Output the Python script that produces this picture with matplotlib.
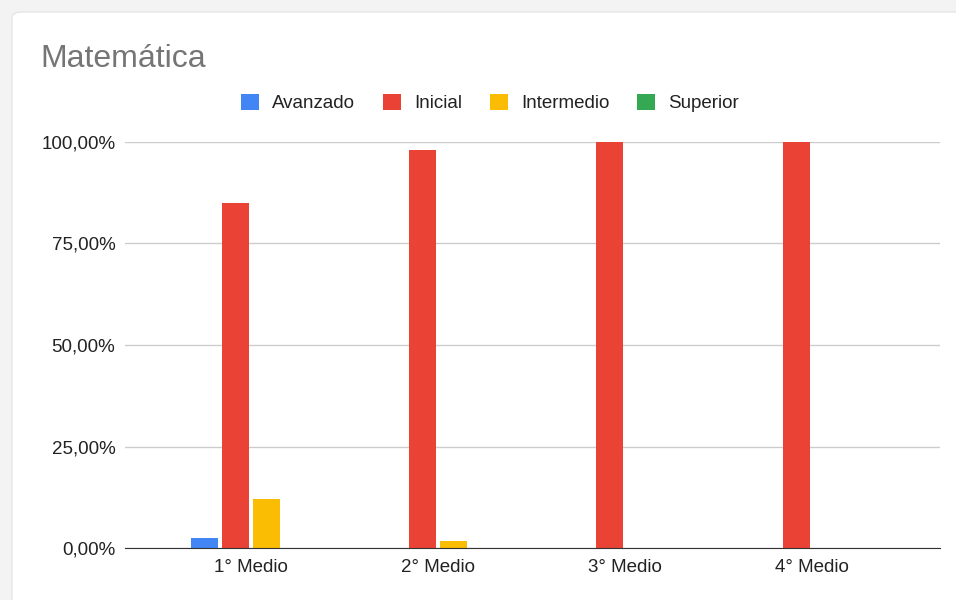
import numpy as np
import matplotlib.pyplot as plt
from matplotlib.patches import FancyBboxPatch
from matplotlib.ticker import FuncFormatter

plt.rcParams['font.family'] = ['Liberation Sans', 'DejaVu Sans']

# datos
cursos = ["1° Medio", "2° Medio", "3° Medio", "4° Medio"]
niveles = ["Avanzado", "Inicial", "Intermedio", "Superior"]
avanzado = [2.4, 0.0, 0.0, 0.0]
inicial = [85.0, 98.0, 100.0, 100.0]
intermedio = [12.0, 1.7, 0.0, 0.0]
superior = [0.0, 0.0, 0.0, 0.0]
colores = ["#4285F4", "#EA4335", "#FBBC04", "#34A853"]

series = [avanzado, inicial, intermedio, superior]

fig = plt.figure(figsize=(9.56, 6.0), dpi=100)
fig.patch.set_facecolor("#f3f3f3")
# tarjeta blanca de fondo
fig.patches.append(FancyBboxPatch((12 / 956, -0.05), 1.2, 1.0 - 12 / 600 + 0.05,
                                  boxstyle="round,pad=0,rounding_size=0.01",
                                  transform=fig.transFigure, facecolor="white",
                                  edgecolor="#e6e6e6", linewidth=1, zorder=-1))

ax = fig.add_axes([125 / 956, 1 - 548 / 600, (940 - 125) / 956, (548 - 142) / 600])
ax.set_zorder(2)
ax.set_facecolor("none")

x = np.arange(len(cursos))
paso = 31 / 187
ancho = 27 / 187
for i, (nombre, valores) in enumerate(zip(niveles, series)):
    ax.bar(x + (i - 1.5) * paso, valores, width=ancho, color=colores[i],
           label=nombre, zorder=3)

ax.set_xlim(-126 / 187, 3 + 128 / 187)
ax.set_ylim(0, 100)
ax.set_yticks([0, 25, 50, 75, 100])
ax.yaxis.set_major_formatter(FuncFormatter(lambda v, p: f"{v:.2f}%".replace(".", ",")))
ax.grid(axis="y", color="#cccccc", linewidth=1, zorder=0)
ax.set_xticks(x)
ax.set_xticklabels(cursos)
ax.tick_params(axis="both", length=0, labelsize=13.5, colors="#222222", pad=8)
ax.tick_params(axis="y", pad=7)
for s in ["top", "right", "left"]:
    ax.spines[s].set_visible(False)
ax.spines["bottom"].set_color("#333333")
ax.spines["bottom"].set_zorder(4)

fig.text(40 / 956, 1 - 59 / 600, "Matemática", fontsize=23, color="#757575",
         va="center", ha="left")

leg = fig.legend(loc="center", bbox_to_anchor=(490 / 956, 1 - 103 / 600), ncol=4,
                 frameon=False, fontsize=13.5, handlelength=0.95, handleheight=0.95,
                 handletextpad=0.7, columnspacing=1.5)
for t in leg.get_texts():
    t.set_color("#222222")

fig.savefig("out.png", dpi=100, facecolor=fig.get_facecolor())
